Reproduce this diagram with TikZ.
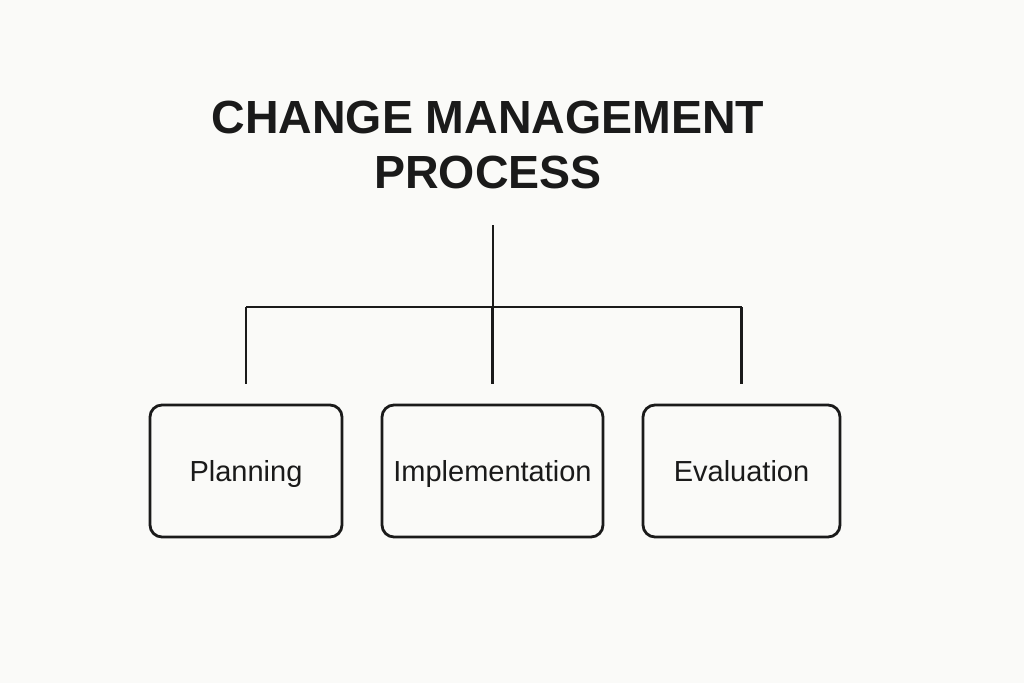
\documentclass[tikz,border=0pt]{standalone}
\usepackage{fontspec}
\setmainfont{Liberation Sans}
\definecolor{bg}{HTML}{FAFAF8}
\definecolor{ink}{HTML}{1A1A1A}
\tikzset{
  stepbox/.style={draw=ink, line width=2.8pt, rounded corners=12pt, minimum height=132pt, inner sep=0pt, text=ink, text height=21pt, text depth=0pt, font=\fontsize{29}{34}\selectfont},
  link/.style={draw=ink, line width=2.8pt},
}
\begin{document}
\begin{tikzpicture}[x=1pt,y=-1pt]
\fill[bg] (0,0) rectangle (1024,683);
\useasboundingbox (0,0) rectangle (1024,683);
\node[text=ink, align=center, font=\fontsize{46.5}{55}\bfseries\selectfont, anchor=base] (title) at (488,188) {CHANGE MANAGEMENT\\PROCESS};
\node[stepbox, minimum width=192pt] (plan) at (246,471) {Planning};
\node[stepbox, minimum width=221pt] (impl) at (492.5,471) {Implementation};
\node[stepbox, minimum width=197pt] (eval) at (741.5,471) {Evaluation};
\coordinate (top) at (493,225);
\coordinate (hub) at (493,307);
\draw[link] (top) -- (hub);
\draw[link] (hub -| plan.north) -- (hub -| eval.north);
\draw[link] (hub -| plan.north) -- ([yshift=20pt]plan.north);
\draw[link] (hub -| impl.north) -- ([yshift=20pt]impl.north);
\draw[link] (hub -| eval.north) -- ([yshift=20pt]eval.north);
\end{tikzpicture}
\end{document}
